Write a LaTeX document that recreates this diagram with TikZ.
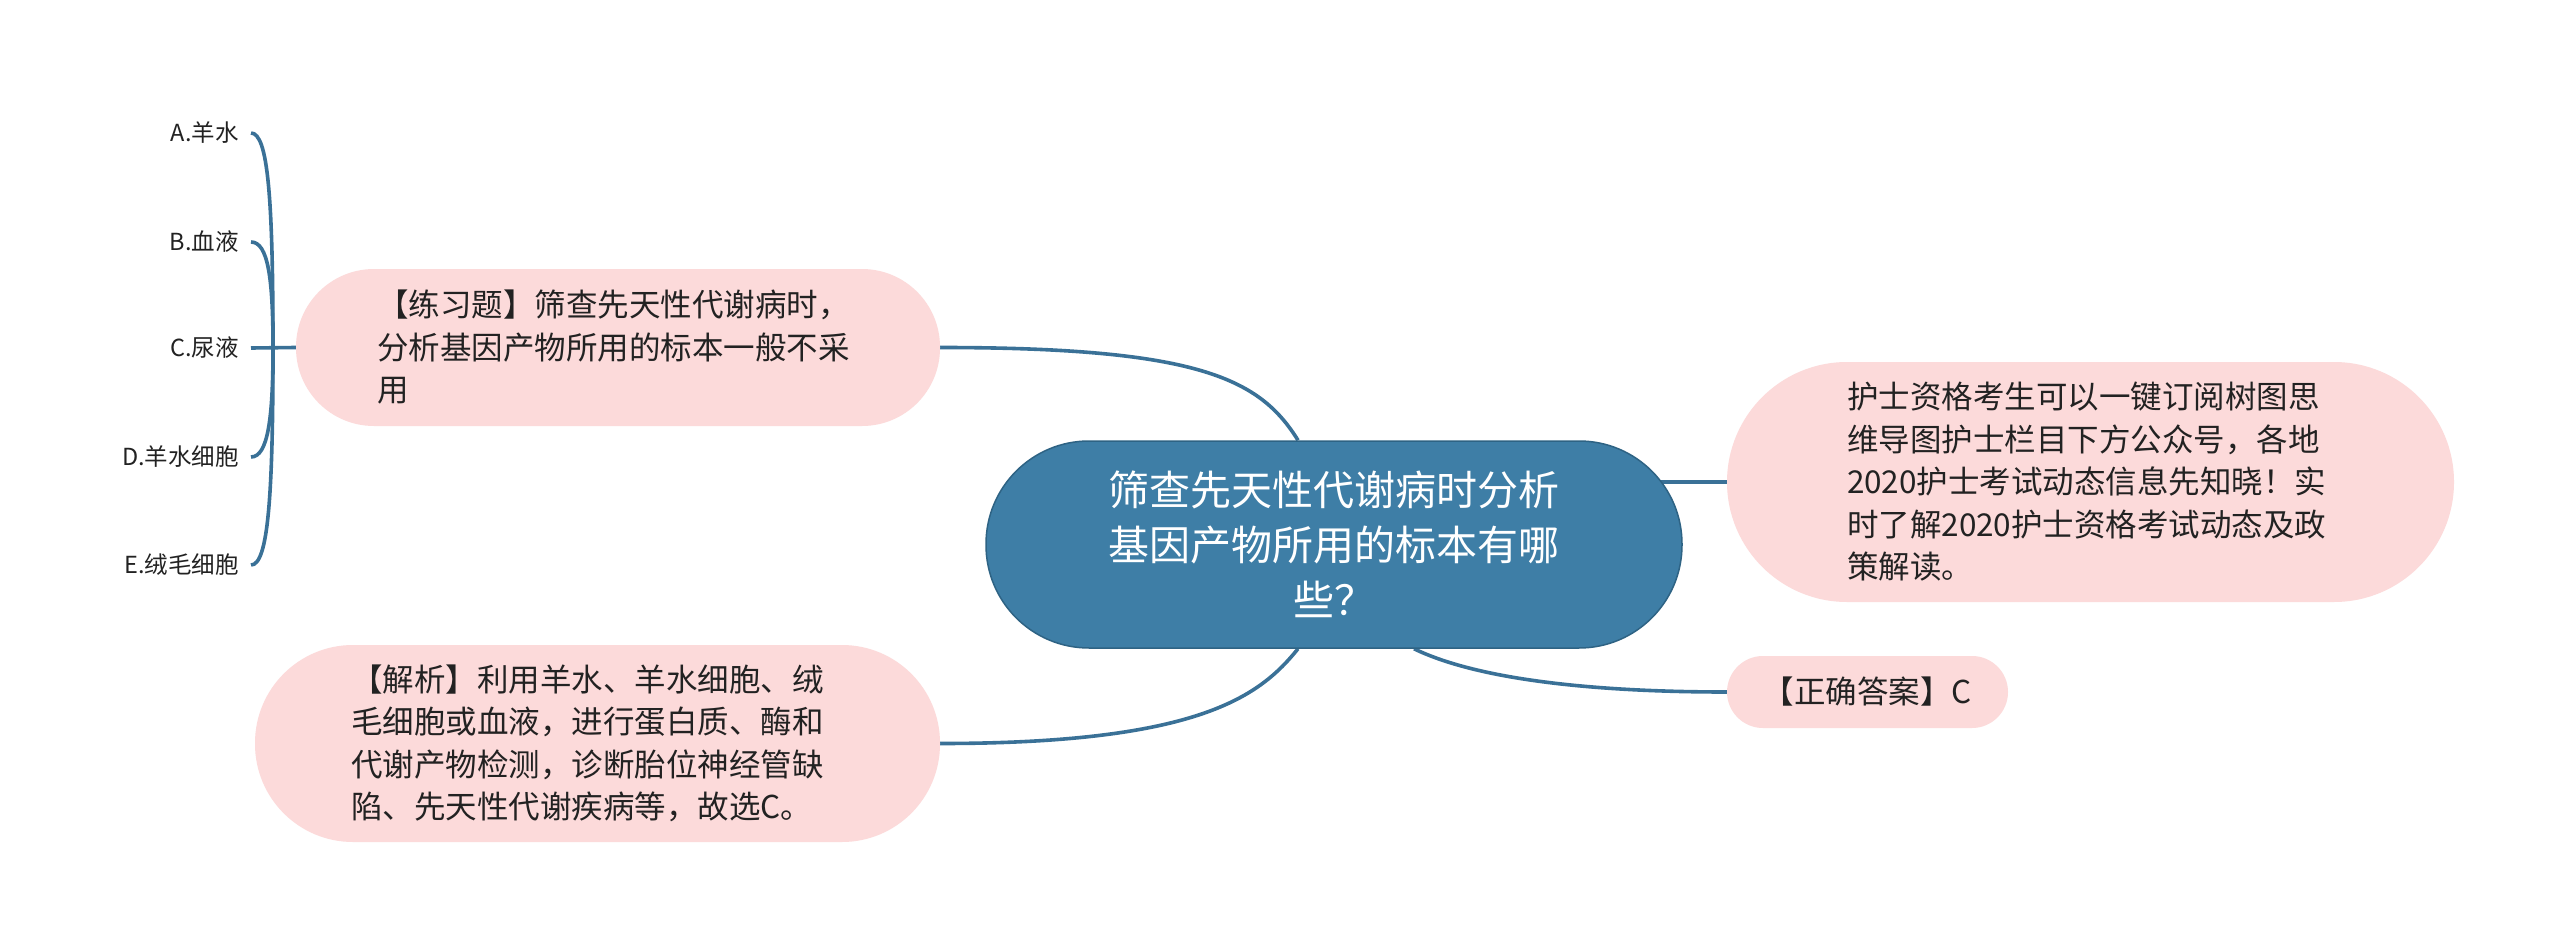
\documentclass[tikz,border=0pt]{standalone}
\usepackage{fontspec}
\newfontfamily\cjk{Noto Sans CJK SC}
\usetikzlibrary{calc}
\definecolor{linec}{HTML}{3A7197}
\definecolor{pinkc}{HTML}{FCDADA}
\definecolor{mainc}{HTML}{3E7EA6}
\definecolor{mainb}{HTML}{2E6384}
\definecolor{txt}{HTML}{222222}
\pgfdeclarelayer{bgfill}
\pgfdeclarelayer{bg}
\pgfsetlayers{bgfill,bg,main}
\begin{document}
\begin{tikzpicture}[x=1pt,y=-1pt,
  conn/.style={draw=linec,line width=3.6pt},
  pinkbox/.style={fill=pinkc,text=txt,font=\cjk\fontsize{31.5}{42.5}\selectfont,align=left,inner ysep=0pt},
  mainbox/.style={fill=mainc,draw=mainb,line width=1.5pt,text=white,font=\cjk\fontsize{41}{55}\selectfont,align=center,inner sep=0pt},
  leaf/.style={text=txt,font=\cjk\fontsize{23.5}{26}\selectfont,anchor=east,inner xsep=12pt,inner ysep=0pt}]
\useasboundingbox (0,0) rectangle (2560,947);
\begin{pgfonlayer}{bgfill}
  \fill[white] (0,0) rectangle (2560,947);
\end{pgfonlayer}

\node[mainbox, minimum width=696pt, minimum height=207pt, rounded corners=103pt] (c) at (1334,544.5)
  {筛查先天性代谢病时分析\\基因产物所用的标本有哪\\些？};

\node[pinkbox, minimum width=644pt, minimum height=157pt, text width=482pt, inner xsep=81pt, rounded corners=78pt] (lt) at (618,347.5)
  {【练习题】筛查先天性代谢病时，\\分析基因产物所用的标本一般不采\\用};

\node[pinkbox, minimum width=685pt, minimum height=197pt, text width=493pt, inner xsep=96pt, rounded corners=98pt] (lb) at (597.5,743.5)
  {【解析】利用羊水、羊水细胞、绒\\毛细胞或血液，进行蛋白质、酶和\\代谢产物检测，诊断胎位神经管缺\\陷、先天性代谢疾病等，故选C。};

\node[pinkbox, minimum width=727pt, minimum height=240pt, text width=487pt, inner xsep=120pt, rounded corners=120pt] (rt) at (2090.5,482)
  {护士资格考生可以一键订阅树图思\\维导图护士栏目下方公众号，各地\\2020护士考试动态信息先知晓！实\\时了解2020护士资格考试动态及政\\策解读。};

\node[pinkbox, align=center, minimum width=281pt, minimum height=72pt, inner xsep=0pt, rounded corners=36pt] (rb) at (1867.5,692)
  {【正确答案】C};

\node[leaf] (la) at (251,133) {A.羊水};
\node[leaf] (lbb) at (251,242) {B.血液};
\node[leaf] (lc) at (251,348) {C.尿液};
\node[leaf] (ld) at (251,457) {D.羊水细胞};
\node[leaf] (le) at (251,565) {E.绒毛细胞};
\coordinate (j) at (273,348);

\begin{pgfonlayer}{bg}
  \draw[conn] (lt.east) .. controls +(260,0) and +(-38,-61) .. ($(c.north)+(-36,0)$);
  \draw[conn] (lb.east) .. controls +(260,0) and +(-38,47) .. ($(c.south)+(-36,0)$);
  \draw[conn] (rt.west) -- (c.center |- rt.west);
  \draw[conn] ($(c.south)+(80,0)$) .. controls +(66,32) and +(-127,0) .. (rb.west);
  \draw[conn] (la.east) .. controls +(17,0) and +(0,-150) .. (j);
  \draw[conn] (lbb.east) .. controls +(17,0) and +(0,-70) .. (j);
  \draw[conn] (ld.east) .. controls +(17,0) and +(0,70) .. (j);
  \draw[conn] (le.east) .. controls +(17,0) and +(0,150) .. (j);
  \draw[conn] (lc.east) -- (lt.west);
\end{pgfonlayer}
\end{tikzpicture}
\end{document}
